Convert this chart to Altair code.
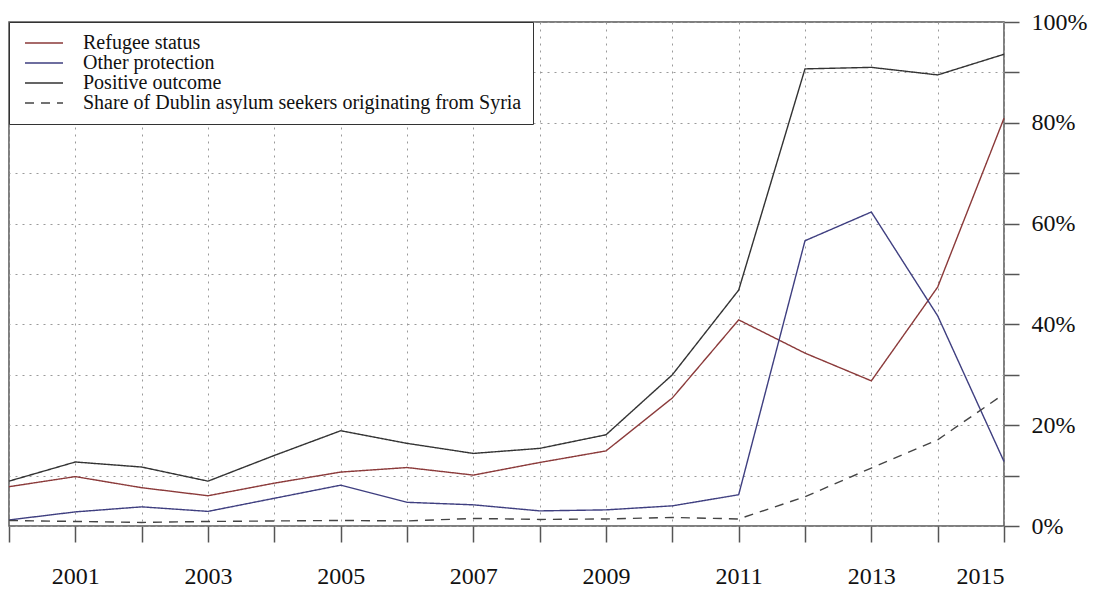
import altair as alt
import pandas as pd

years = list(range(2000, 2016))
series_names = [
    "Refugee status",
    "Other protection",
    "Positive outcome",
    "Share of Dublin asylum seekers originating from Syria",
]
refugee = [7.8, 9.8, 7.6, 6.0, 8.5, 10.7, 11.6, 10.1, 12.6, 14.9, 25.4, 40.9, 34.3, 28.8, 47.4, 80.9]
other = [1.2, 2.8, 3.8, 2.9, 5.5, 8.1, 4.7, 4.2, 3.0, 3.2, 4.0, 6.2, 56.6, 62.3, 41.7, 12.8]
positive = [8.9, 12.7, 11.7, 8.9, 14.0, 18.9, 16.4, 14.4, 15.4, 18.1, 30.0, 46.8, 90.7, 91.0, 89.5, 93.6]
syria = [1.1, 0.9, 0.7, 0.9, 1.0, 1.1, 1.0, 1.5, 1.3, 1.4, 1.7, 1.4, 5.8, 11.5, 17.1, 26.2]

colors = ["#8b3a3a", "#3f3f80", "#333333", "#444444"]
dashes = [[1, 0], [1, 0], [1, 0], [9, 7]]

rows = []
for name, vals in zip(series_names, [refugee, other, positive, syria]):
    for y, v in zip(years, vals):
        rows.append({"year": y, "value": v, "series": name})
df = pd.DataFrame(rows)

FONT = "Liberation Serif"
AX = "#555555"
GRID = "#9a9a9a"

legend = alt.Legend(
    title=None,
    orient="top-left",
    offset=0,
    padding=11,
    strokeColor="#333333",
    fillColor="white",
    symbolType="M-1.0,0H6.6",
    symbolSize=100,
    symbolStrokeWidth=1.4,
    labelFont=FONT,
    labelFontSize=20,
    labelColor="#111111",
    labelOffset=43,
    labelLimit=1000,
    rowPadding=-2,
)

chart = (
    alt.Chart(df)
    .mark_line(strokeWidth=1.4)
    .encode(
        x=alt.X(
            "year:Q",
            scale=alt.Scale(domain=[2000, 2015], nice=False, zero=False),
            axis=alt.Axis(
                title=None,
                values=years,
                format="d",
                labelExpr="datum.value % 2 == 1 ? toString(datum.value) : ''",
                domain=False,
                tickSize=16,
                tickColor=AX,
                tickWidth=1.5,
                labelFont=FONT,
                labelFontSize=24,
                labelColor="#111111",
                labelPadding=22,
                grid=True,
                gridDash=[2, 5],
                gridColor=GRID,
                gridWidth=1,
            ),
        ),
        y=alt.Y(
            "value:Q",
            scale=alt.Scale(domain=[0, 100], nice=False),
            axis=alt.Axis(
                title=None,
                orient="right",
                values=list(range(0, 101, 10)),
                labelExpr="datum.value % 20 == 0 ? datum.value + '%' : ''",
                domain=False,
                tickSize=15,
                tickColor=AX,
                tickWidth=1.5,
                labelFont=FONT,
                labelFontSize=24,
                labelColor="#111111",
                labelPadding=12,
                grid=True,
                gridDash=[2, 5],
                gridColor=GRID,
                gridWidth=1,
            ),
        ),
        color=alt.Color("series:N", scale=alt.Scale(domain=series_names, range=colors), legend=legend),
        strokeDash=alt.StrokeDash("series:N", scale=alt.Scale(domain=series_names, range=dashes), legend=legend),
    )
    .properties(
        width=995,
        height=504,
        padding={"left": 9, "top": 22, "right": 96, "bottom": 63},
        autosize=alt.AutoSizeParams(type="none"),
        background="white",
    )
    .configure_view(stroke=AX, strokeWidth=1.5)
)

chart.save("out.html", embed_options={"renderer": "svg", "actions": False})
